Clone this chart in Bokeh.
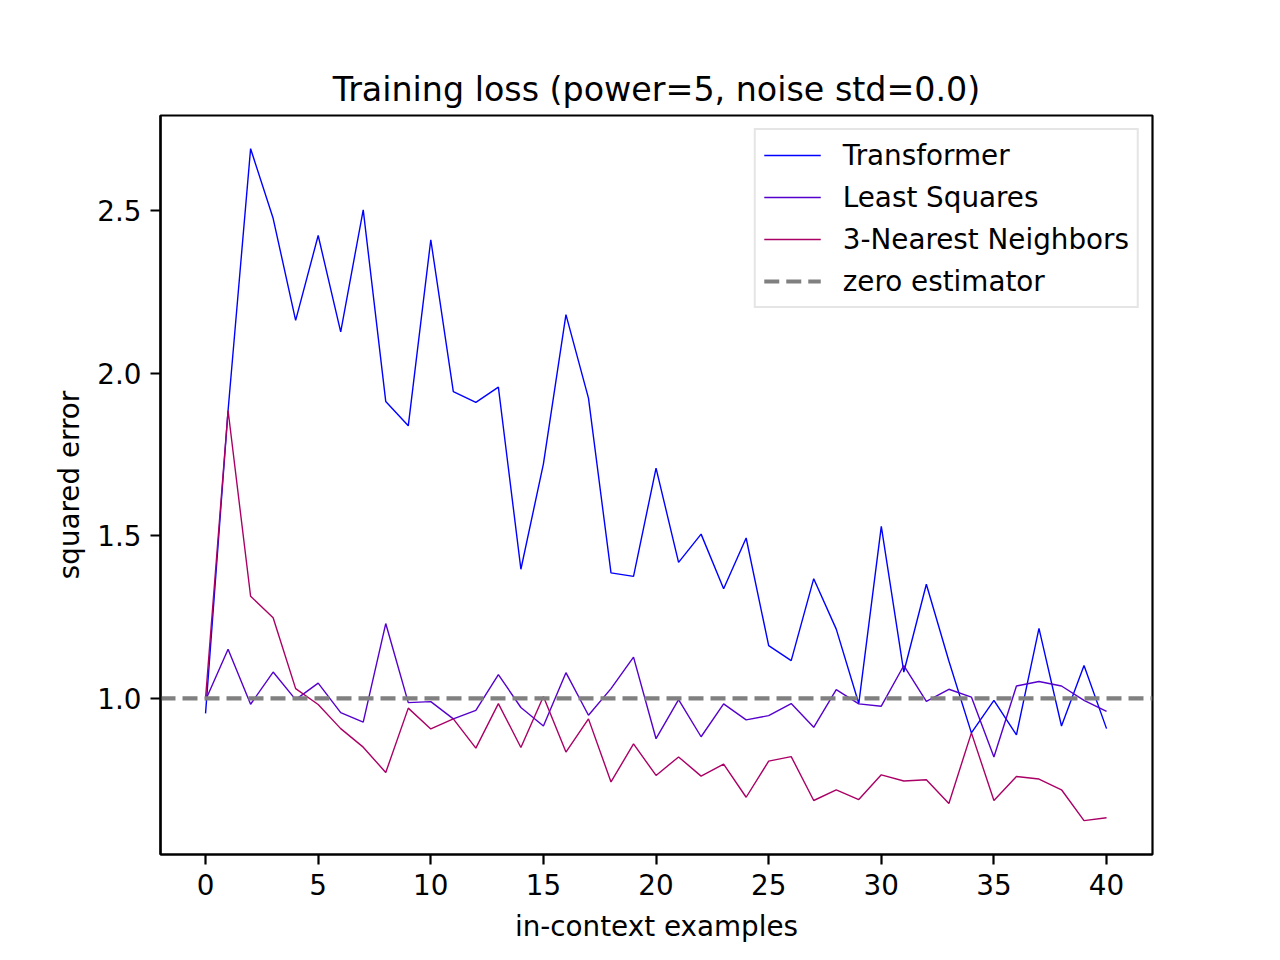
from bokeh.plotting import figure
from bokeh.models import (Legend, LegendItem, FixedTicker, PrintfTickFormatter,
                          Range1d, ColumnDataSource)
from bokeh.embed import file_html
from bokeh.resources import INLINE

# ---- data ----
n_examples = list(range(41))

transformer = [0.954, 1.885, 2.690, 2.476, 2.162, 2.423, 2.127, 2.502, 1.913, 1.838,
               2.410, 1.943, 1.910, 1.957, 1.397, 1.721, 2.180, 1.923, 1.386, 1.375,
               1.708, 1.418, 1.505, 1.337, 1.493, 1.162, 1.116, 1.368, 1.213, 0.984,
               1.529, 1.081, 1.351, 1.115, 0.894, 0.994, 0.888, 1.215, 0.915, 1.101,
               0.907]

least_squares = [0.994, 1.151, 0.982, 1.081, 0.996, 1.047, 0.956, 0.927, 1.230, 0.987,
                 0.990, 0.937, 0.963, 1.073, 0.972, 0.915, 1.079, 0.948, 1.030, 1.127,
                 0.876, 0.996, 0.882, 0.983, 0.934, 0.947, 0.984, 0.911, 1.027, 0.983,
                 0.976, 1.101, 0.991, 1.028, 1.004, 0.820, 1.038, 1.052, 1.038, 0.994,
                 0.960]

knn3 = [1.000, 1.885, 1.314, 1.248, 1.030, 0.981, 0.907, 0.850, 0.772, 0.970,
        0.906, 0.937, 0.847, 0.984, 0.849, 1.006, 0.835, 0.937, 0.743, 0.860,
        0.763, 0.820, 0.761, 0.798, 0.696, 0.807, 0.821, 0.686, 0.719, 0.689,
        0.765, 0.746, 0.750, 0.677, 0.894, 0.686, 0.760, 0.752, 0.719, 0.624,
        0.633]

zero_estimator = 1.0

series_names = ["Transformer", "Least Squares", "3-Nearest Neighbors"]
series_colors = ["#0000ff", "#5500cc", "#aa0066"]

x_ticks = [0, 5, 10, 15, 20, 25, 30, 35, 40]
y_ticks = [1.0, 1.5, 2.0, 2.5]

title_text = "Training loss (power=5, noise std=0.0)"
x_label = "in-context examples"
y_label = "squared error"

X_START, X_END = -2.0, 42.04
Y_START, Y_END = 0.520, 2.792

FONT = "DejaVu Sans"
TICK_FS = "27.8px"

p = figure(width=1272, height=952, output_backend="svg", toolbar_location=None,
           x_range=Range1d(X_START, X_END), y_range=Range1d(Y_START, Y_END),
           min_border_left=160, min_border_right=120, min_border_top=115,
           min_border_bottom=98, title=title_text)

p.title.text_font = FONT
p.title.text_font_size = "33.3px"
p.title.text_font_style = "normal"
p.title.text_color = "black"
p.title.align = "center"
p.title.standoff = 14

p.grid.visible = False
p.background_fill_color = "white"
p.border_fill_color = "white"
p.outline_line_color = "black"
p.outline_line_width = 2.2

for ax in (p.xaxis[0], p.yaxis[0]):
    ax.axis_line_width = 2.2
    ax.axis_line_color = "black"
    ax.major_tick_line_width = 2.2
    ax.major_tick_line_color = "black"
    ax.major_tick_out = 10
    ax.major_tick_in = 0
    ax.minor_tick_out = 0
    ax.minor_tick_in = 0
    ax.major_label_text_font = FONT
    ax.major_label_text_font_size = TICK_FS
    ax.major_label_text_color = "black"
    ax.axis_label_text_font = FONT
    ax.axis_label_text_font_size = TICK_FS
    ax.axis_label_text_font_style = "normal"
    ax.axis_label_text_color = "black"
    ax.major_label_standoff = 9
    ax.axis_label_standoff = 12
p.yaxis[0].axis_label_standoff = 8

p.xaxis.ticker = FixedTicker(ticks=x_ticks)
p.yaxis.ticker = FixedTicker(ticks=y_ticks)
p.yaxis.formatter = PrintfTickFormatter(format="%.1f")
p.xaxis.axis_label = x_label
p.yaxis.axis_label = y_label

items = []
for name, vals, col in zip(series_names, [transformer, least_squares, knn3], series_colors):
    src = ColumnDataSource(dict(x=n_examples, y=vals))
    r = p.line("x", "y", source=src, line_color=col, line_width=1.4)
    items.append(LegendItem(label=name, renderers=[r]))

# horizontal reference line across the whole x range
zero_src = ColumnDataSource(dict(x=[X_START, X_END], y=[zero_estimator, zero_estimator]))
zr = p.line("x", "y", source=zero_src, line_color="gray", line_width=4.2, line_dash="15 7")
items.append(LegendItem(label="zero estimator", renderers=[zr]))

legend = Legend(items=items, location="top_right")
legend.margin = 13
legend.padding = 8
legend.spacing = 8
legend.glyph_width = 57
legend.glyph_height = 34
legend.label_height = 34
legend.label_standoff = 22
legend.label_text_font = FONT
legend.label_text_font_size = TICK_FS
legend.label_text_color = "black"
legend.border_line_color = "#cccccc"
legend.border_line_width = 2.2
legend.background_fill_alpha = 0.8
p.add_layout(legend)

open("out.html", "w").write(file_html(p, INLINE))
